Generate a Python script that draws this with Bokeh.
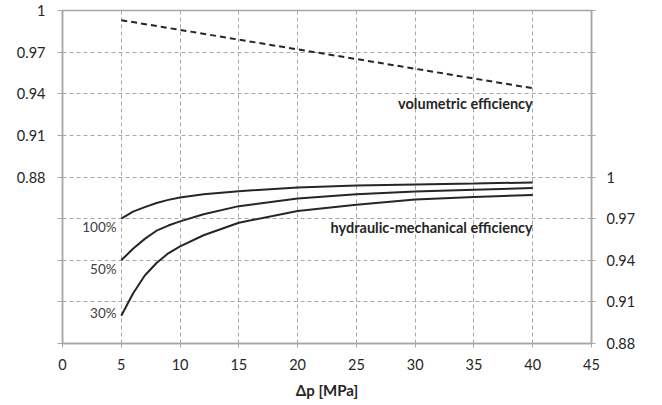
from bokeh.plotting import figure
from bokeh.models import Range1d, LinearAxis, FixedTicker, Label
from bokeh.embed import file_html
from bokeh.resources import INLINE

# ---- data ----
dp_vol = [5, 10, 15, 20, 25, 30, 35, 40]
eta_vol = [0.993, 0.986, 0.979, 0.972, 0.965, 0.958, 0.951, 0.944]

dp_hm = [5, 6, 7, 8, 9, 10, 12, 15, 20, 25, 30, 35, 40]
hm_100 = [0.970, 0.975, 0.9783, 0.9813, 0.9835, 0.9852, 0.9875, 0.9898, 0.9925, 0.9938, 0.9946, 0.9953, 0.9961]
hm_50 = [0.940, 0.9483, 0.9554, 0.9613, 0.965, 0.968, 0.9731, 0.979, 0.9845, 0.9875, 0.9895, 0.9909, 0.992]
hm_30 = [0.900, 0.916, 0.929, 0.938, 0.945, 0.950, 0.958, 0.967, 0.9755, 0.980, 0.9838, 0.9856, 0.987]

x_ticks = [0, 5, 10, 15, 20, 25, 30, 35, 40, 45]
left_ticks = [0.76, 0.79, 0.82, 0.85, 0.88, 0.91, 0.94, 0.97, 1.0]
left_labels = ["", "", "", "", "0.88", "0.91", "0.94", "0.97", "1"]
right_ticks = [0.88, 0.91, 0.94, 0.97, 1.0, 1.03, 1.06, 1.09, 1.12]
right_labels = ["0.88", "0.91", "0.94", "0.97", "1", "", "", "", ""]

FONT = "Lato"
AX = "#a6a6a6"
GRID = "#a8a8a8"
INK = "#262626"

p = figure(width=662, height=405, output_backend="svg", toolbar_location=None,
           x_range=Range1d(0, 45), y_range=Range1d(0.76, 1.0),
           min_border_left=62, min_border_right=71, min_border_top=10,
           min_border_bottom=62)
p.extra_y_ranges = {"right": Range1d(0.88, 1.12)}

p.outline_line_color = AX
p.outline_line_width = 1.5
p.background_fill_color = "white"
p.border_fill_color = "white"

x_ticker = FixedTicker(ticks=x_ticks)
y_ticker = FixedTicker(ticks=left_ticks)

# x axis
xa = p.xaxis[0]
xa.ticker = x_ticker
xa.axis_label = "Δp [MPa]"
xa.axis_label_text_font = FONT
xa.axis_label_text_font_style = "bold"
xa.axis_label_text_font_size = "15px"
xa.axis_label_text_color = INK
xa.axis_label_standoff = 8
xa.major_label_text_font = FONT
xa.major_label_text_font_size = "14.5px"
xa.major_label_text_color = INK
xa.major_label_standoff = 11
xa.major_tick_out = 4
xa.major_tick_in = 0
xa.minor_tick_line_color = None
xa.axis_line_color = AX
xa.axis_line_width = 1.5
xa.major_tick_line_color = AX

# left axis
ya = p.yaxis[0]
ya.ticker = y_ticker
ya.major_label_overrides = dict(zip(left_ticks, left_labels))
ya.major_label_text_font = FONT
ya.major_label_text_font_size = "14.5px"
ya.major_label_text_color = INK
ya.major_label_standoff = 12
ya.major_tick_out = 5
ya.major_tick_in = 0
ya.minor_tick_line_color = None
ya.axis_line_color = AX
ya.axis_line_width = 1.5
ya.major_tick_line_color = GRID

# right axis
ra = LinearAxis(y_range_name="right", ticker=FixedTicker(ticks=right_ticks))
ra.major_label_overrides = dict(zip(right_ticks, right_labels))
ra.major_label_text_font = FONT
ra.major_label_text_font_size = "14.5px"
ra.major_label_text_color = INK
ra.major_label_standoff = 11
ra.major_tick_out = 4
ra.major_tick_in = 0
ra.minor_tick_line_color = None
ra.axis_line_color = AX
ra.axis_line_width = 1.5
ra.major_tick_line_color = GRID
p.add_layout(ra, "right")

# grids
p.xgrid[0].ticker = x_ticker
p.ygrid[0].ticker = y_ticker
for g in (p.xgrid[0], p.ygrid[0]):
    g.grid_line_color = GRID
    g.grid_line_dash = "4 3"
    g.grid_line_width = 1
    g.grid_line_alpha = 1.0

# lines
p.line(dp_vol, eta_vol, line_width=2, line_color=INK, line_dash="6 4")
for ys in (hm_100, hm_50, hm_30):
    p.line(dp_hm, ys, y_range_name="right", line_width=2, line_color=INK)

# text annotations
p.add_layout(Label(x=40, y=0.933, text="volumetric efficiency", text_align="right",
                   text_baseline="middle", text_font=FONT, text_font_style="bold",
                   text_font_size="14.5px", text_color=INK))
p.add_layout(Label(x=40, y=0.9637, y_range_name="right", text="hydraulic-mechanical efficiency",
                   text_align="right", text_baseline="middle", text_font=FONT,
                   text_font_style="bold", text_font_size="14.5px", text_color=INK))
for txt, yy in (("100%", 0.964), ("50%", 0.9335), ("30%", 0.9017)):
    p.add_layout(Label(x=4.6, y=yy, y_range_name="right", text=txt, text_align="right",
                       text_baseline="middle", text_font=FONT, text_font_size="13.5px",
                       text_color="#404040"))

open("out.html", "w").write(file_html(p, INLINE))
